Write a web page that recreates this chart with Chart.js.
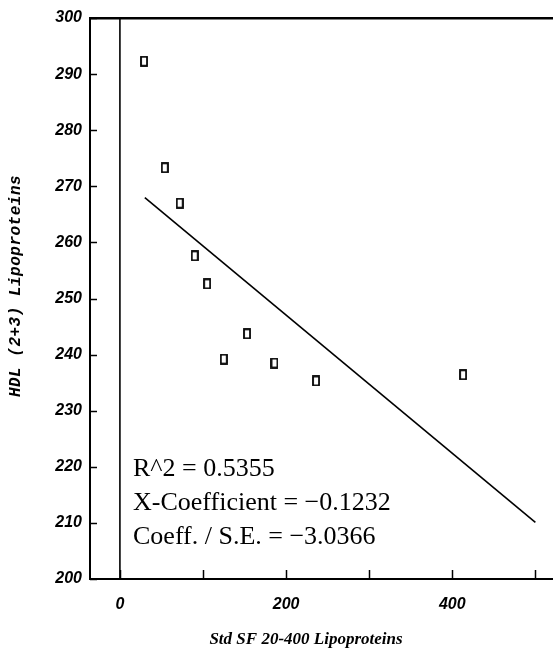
<!DOCTYPE html>
<html>
<head>
<meta charset="utf-8">
<title>HDL vs Std SF 20-400</title>
<script src="https://cdn.jsdelivr.net/npm/chart.js@4/dist/chart.umd.min.js"></script>
<style>
  html, body { margin: 0; padding: 0; background: #fff; overflow: hidden; }
  #chart { display: block; }
</style>
</head>
<body>
<canvas id="chart" width="558" height="650"></canvas>
<script>
// data
var sfValues  = [29, 54, 72, 90, 105, 125, 153, 186, 236, 413];
var hdlValues = [292.3, 273.3, 267.0, 257.6, 252.6, 239.2, 243.7, 238.5, 235.3, 236.4];
var fitX = [30, 500];
var fitY = [268.0, 210.1];
var xTickValues = [0, 100, 200, 300, 400, 500];
var xTickLabels = ['0', '', '200', '', '400', ''];
var statLines = ['R^2 = 0.5355', 'X-Coefficient = \u22120.1232', 'Coeff. / S.E. = \u22123.0366'];
var xTitle = 'Std SF 20-400 Lipoproteins';
var yTitle = 'HDL (2+3) Lipoproteins';

(function(){
  // tall hollow box used as the marker
  function boxMarker(){
    var c = document.createElement('canvas');
    c.width = 8; c.height = 11;
    var g = c.getContext('2d');
    g.strokeStyle = '#000';
    g.lineWidth = 1.8;
    g.strokeRect(1, 1, 6, 9);
    return c;
  }

  function pairs(xs, ys){
    return xs.map(function(x, i){ return { x: x, y: ys[i] }; });
  }

  var tickFont = { family: 'Liberation Sans', size: 16, weight: 'bold', style: 'italic' };

  // inward tick marks, stats text and axis titles
  var decor = {
    id: 'decor',
    afterDraw: function(chart){
      var ctx = chart.ctx, area = chart.chartArea;
      var xs = chart.scales.x, ys = chart.scales.y;
      ctx.save();
      ctx.strokeStyle = '#000';
      ctx.lineWidth = 1.5;
      ys.ticks.forEach(function(t){
        var py = Math.round(ys.getPixelForValue(t.value)) + 0.5;
        ctx.beginPath(); ctx.moveTo(area.left, py); ctx.lineTo(area.left + 7, py); ctx.stroke();
      });
      xs.ticks.forEach(function(t){
        var px = Math.round(xs.getPixelForValue(t.value)) + 0.5;
        ctx.beginPath(); ctx.moveTo(px, area.bottom); ctx.lineTo(px, area.bottom - 9); ctx.stroke();
      });

      ctx.fillStyle = '#000';
      ctx.font = '26px "Liberation Serif"';
      ctx.textAlign = 'left';
      ctx.textBaseline = 'middle';
      statLines.forEach(function(s, i){ ctx.fillText(s, 133, 469 + i * 34); });

      ctx.font = 'italic bold 17px "Liberation Serif"';
      ctx.textAlign = 'center';
      ctx.fillText(xTitle, 306, 640);

      ctx.translate(16, 286);
      ctx.rotate(-Math.PI / 2);
      ctx.font = 'italic bold 16px "Liberation Mono"';
      ctx.letterSpacing = '0.5px';
      ctx.fillText(yTitle, 0, 0);
      ctx.restore();
    }
  };

  new Chart(document.getElementById('chart').getContext('2d'), {
    type: 'scatter',
    data: {
      datasets: [
        { label: 'data', data: pairs(sfValues, hdlValues), pointStyle: boxMarker(), pointRadius: 5, showLine: false },
        { label: 'fit', data: pairs(fitX, fitY), showLine: true, borderColor: '#000', borderWidth: 1.6, pointRadius: 0 },
        { label: 'zero', data: pairs([0, 0], [200, 300]), showLine: true, borderColor: '#000', borderWidth: 1.6, pointRadius: 0 }
      ]
    },
    options: {
      responsive: false,
      animation: false,
      devicePixelRatio: 1,
      layout: { padding: { top: 18, left: 0, right: 0, bottom: 0 } },
      plugins: { legend: { display: false }, tooltip: { enabled: false } },
      scales: {
        x: {
          type: 'linear', position: 'bottom', min: -36, max: 520,
          afterFit: function(s){ s.height = 71; },
          afterBuildTicks: function(s){ s.ticks = xTickValues.map(function(v){ return { value: v }; }); },
          grid: { display: false, drawTicks: false },
          border: { display: true, color: '#000', width: 2 },
          ticks: { padding: 16, color: '#000', font: tickFont, maxRotation: 0, autoSkip: false,
            callback: function(v){ var i = xTickValues.indexOf(v); return i < 0 ? '' : xTickLabels[i]; } }
        },
        xTop: {
          type: 'linear', position: 'top', min: -36, max: 520,
          afterFit: function(s){ s.height = 0; },
          grid: { display: false, drawTicks: false },
          border: { display: true, color: '#000', width: 2.5 },
          ticks: { display: false }
        },
        y: {
          type: 'linear', position: 'left', min: 200, max: 300,
          afterFit: function(s){ s.width = 90; },
          grid: { display: false, drawTicks: false },
          border: { display: true, color: '#000', width: 2 },
          ticks: { stepSize: 10, padding: 8, color: '#000', font: tickFont }
        }
      }
    },
    plugins: [decor]
  });
})();
</script>
</body>
</html>
